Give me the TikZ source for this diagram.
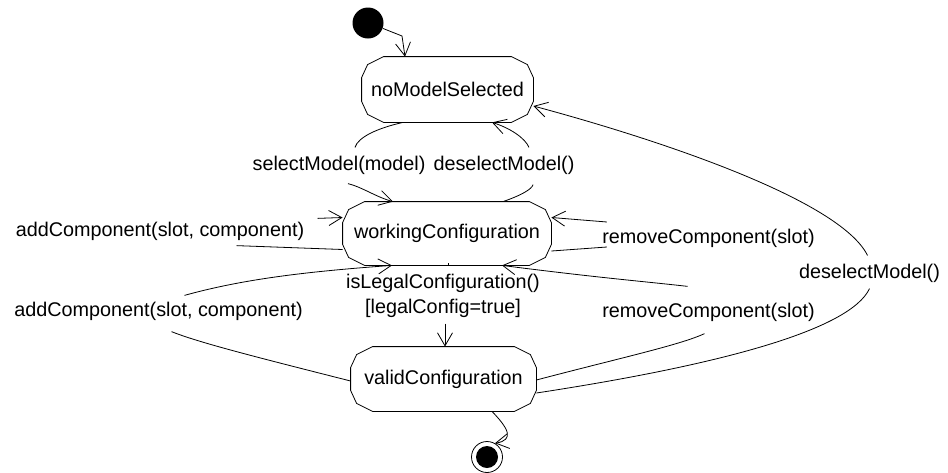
\documentclass[tikz,border=0pt]{standalone}
\usepackage{fontspec}
\setmainfont{Liberation Sans}
\usetikzlibrary{calc,arrows.meta}
\tikzset{
  lbl/.style={inner sep=0pt, font=\fontsize{19.8}{24}\selectfont, align=center},
  statebox/.style={draw=none, inner sep=0pt, font=\fontsize{19.8}{24}\selectfont},
  arr/.style={-{Straight Barb[length=13pt,width=15pt,line width=0.8pt]}},
  ln/.style={line width=0.8pt},
}
\newcommand\octbox[1]{%
  \draw[ln] ($(#1.north west)+(22,0)$) -- ($(#1.north east)+(-22,0)$)
    -- ($(#1.north east)+(-6,8)$) -- ($(#1.north east)+(0,21)$)
    -- ($(#1.south east)+(0,-21)$) -- ($(#1.south east)+(-6,-8)$)
    -- ($(#1.south east)+(-22,0)$) -- ($(#1.south west)+(22,0)$)
    -- ($(#1.south west)+(6,-8)$) -- ($(#1.south west)+(0,-21)$)
    -- ($(#1.north west)+(0,21)$) -- ($(#1.north west)+(6,8)$) -- cycle;}
\begin{document}
\begin{tikzpicture}[x=1pt,y=-1pt,line width=0.8pt]
\useasboundingbox[fill=white] (0,0) rectangle (948,472);

% states
\node[statebox, minimum width=171pt, minimum height=65pt] (nms) at (447.5,89.5) {noModelSelected};
\node[statebox, minimum width=208pt, minimum height=63pt] (wc) at (447,233.5) {workingConfiguration};
\node[statebox, minimum width=185pt, minimum height=64pt] (vc) at (443.5,379) {validConfiguration};
\octbox{nms}\octbox{wc}\octbox{vc}

% pseudo states
\node[circle, fill=black, minimum size=31pt, inner sep=0pt] (init) at (368,23) {};
\node[circle, draw, minimum size=31pt, inner sep=0pt] (fin) at (487,457) {};
\fill (fin.center) circle (11);

% labels
\node[lbl] (lsel) at (339,165) {selectModel(model)};
\node[lbl] (ldes) at (504,165) {deselectModel()};
\node[lbl] (ladd1) at (160,231) {addComponent(slot, component)};
\node[lbl] (lrem1) at (708.5,238) {removeComponent(slot)};
\node[lbl] (lleg) at (443,295.5) {isLegalConfiguration()\\[1pt][legalConfig=true]};
\node[lbl] (ladd2) at (158.5,311) {addComponent(slot, component)};
\node[lbl] (lrem2) at (708.5,312) {removeComponent(slot)};
\node[lbl] (ldes2) at (869.5,273) {deselectModel()};

% connectors
\draw[arr] (init.-20) -- (402,36) -- ($(nms.north)+(-42.5,0)$);

\draw ($(nms.south)+(-44.5,0)$) .. controls (378,128) and (358,137) .. ($(lsel.north)+(16,-8)$);
\draw[arr] ($(lsel.south)+(9,9)$) .. controls (362,187) and (376,197) .. ($(wc.north)+(-54,0)$);

\draw ($(wc.north)+(56,0)$) .. controls (522,195) and (532,189) .. ($(ldes.south)+(29,10)$);
\draw[arr] ($(ldes.north)+(25,-8)$) .. controls (525,138) and (510,128) .. ($(nms.south)+(44.5,0)$);

\draw ($(wc.west)+(0,16)$) -- ($(ladd1.south east)+(-68,5)$);
\draw[arr] ($(ladd1.north east)+(13,-3)$) -- ($(wc.west)+(0,-16)$);

\draw ($(wc.east)+(0,17.5)$) -- ($(lrem1.west)+(5,9)$);
\draw[arr] ($(lrem1.west)+(5,-16)$) -- ($(wc.east)+(0,-16)$);

\draw ($(vc.west)+(0,2)$) .. controls (260,358) and (200,343) .. ($(ladd2.south)+(13,11)$);
\draw[arr] ($(ladd2.north)+(26,-6)$) .. controls (240,280) and (300,272) .. ($(wc.south)+(-55,0)$);

\draw ($(vc.east)+(0,1)$) .. controls (620,358) and (680,345) .. ($(lrem2.south)+(-4,12)$);
\draw[arr] ($(lrem2.north)+(-21,-16)$) .. controls (650,282) and (600,278) .. ($(wc.south)+(55,0)$);

\draw ($(vc.east)+(0,14)$) .. controls (720,365) and (850,330) .. ($(ldes2.south)+(0,6)$);
\draw[arr] ($(ldes2.north)+(-2,-8)$) .. controls (840,200) and (660,140) .. ($(nms.east)+(0,16.5)$);

\draw ($(wc.south)+(1,0)$) -- ($(lleg.north)+(5,-10)$);
\draw[arr] ($(lleg.south)+(2,6)$) -- ($(vc.north)+(1.5,0)$);

\draw[arr] ($(vc.south)+(48.5,0)$) .. controls (508,428) and (515,440) .. (fin.60);
\end{tikzpicture}
\end{document}
